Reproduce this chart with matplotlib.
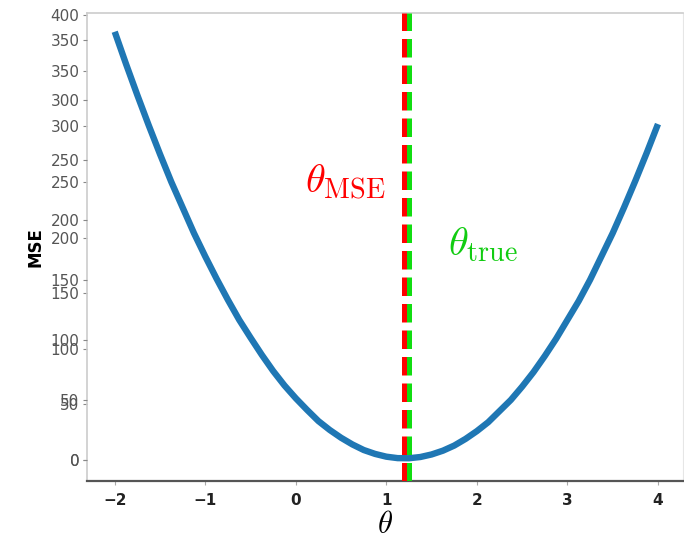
import numpy as np
import matplotlib
matplotlib.use("Agg")
import matplotlib.pyplot as plt

plt.rcParams['mathtext.fontset'] = 'cm'

# curve
theta = [-2.0, -1.875, -1.75, -1.625, -1.5, -1.375, -1.25, -1.125,
         -1.0, -0.875, -0.75, -0.625, -0.5, -0.375, -0.25, -0.125,
         0.0, 0.125, 0.25, 0.375, 0.5, 0.625, 0.75, 0.875,
         1.0, 1.125, 1.25, 1.375, 1.5, 1.625, 1.75, 1.875,
         2.0, 2.125, 2.25, 2.375, 2.5, 2.625, 2.75, 2.875,
         3.0, 3.125, 3.25, 3.375, 3.5, 3.625, 3.75, 3.875, 4.0]
mse = [385, 356, 328, 301, 275, 250, 227, 204,
       183, 163, 144, 126, 110, 94.5, 80, 67,
       55.5, 45, 35, 27, 20, 14, 9, 5.5,
       3, 1.7, 1.6, 2.7, 5, 8.4, 13, 19,
       26, 34, 44, 54, 66, 79, 93.5, 109,
       126, 143, 162, 183, 204, 227, 251, 276, 302]

theta_mse = 1.19
theta_true = 1.25

xticks = [-2, -1, 0, 1, 2, 3, 4]
yticks_a = [0, 50, 100, 150, 200, 250, 300, 350, 400]
yticks_b = [0, 50, 100, 150, 200, 250, 300, 350]

fig = plt.figure(figsize=(6.84, 5.39), dpi=100)
ax = fig.add_axes([0.1272, 0.1067, 0.8713, 0.8697])
ax2 = ax.twinx()

ax.plot(theta, mse, color='#1f77b4', lw=4.6, solid_capstyle='butt',
        solid_joinstyle='round', zorder=2)
ax.axvline(theta_true, color='#11dd11', lw=3.6, ls='--', zorder=3)
ax.axvline(theta_mse, color='#ff0000', lw=3.6, ls='--', zorder=4)

ax.text(0.99, 250, r'$\theta_{\mathrm{MSE}}$', color='#ff0000', fontsize=29,
        ha='right', va='center')
ax.text(1.68, 194, r'$\theta_{\mathrm{true}}$', color='#11cc11', fontsize=29,
        ha='left', va='center')

ax.set_xlim(-2.306, 4.276)
ax.set_ylim(-19.3, 402.1)
ax2.set_ylim(-17.9, 372.75)

ax.set_xticks(xticks)
ax.set_xticklabels([str(t).replace('-', '\u2212') for t in xticks], fontweight='bold')
ax.set_yticks(yticks_a)
ax2.set_yticks(yticks_b)
ax2.yaxis.tick_left()

for a in (ax, ax2):
    a.tick_params(axis='y', labelsize=11, labelcolor='#555555', color='#888888',
                  length=3, width=0.8, pad=2.5)
ax.tick_params(axis='x', labelsize=11, labelcolor='#222222', color='#aaaaaa',
               length=3, width=0.8, pad=5)

for s in ax2.spines.values():
    s.set_visible(False)
ax.spines['left'].set_color('#cccccc')
ax.spines['top'].set_color('#cccccc')
ax.spines['right'].set_color('#e6e6e6')
ax.spines['bottom'].set_color('#555555')
ax.spines['bottom'].set_linewidth(1.6)
ax.spines['left'].set_linewidth(1.2)
ax.spines['top'].set_linewidth(1.2)

ax.set_xlabel(r'$\theta$', fontsize=22, labelpad=2)
ax.set_ylabel('MSE', fontsize=12, fontweight='bold', labelpad=4)

fig.savefig('out.png', dpi=100)
